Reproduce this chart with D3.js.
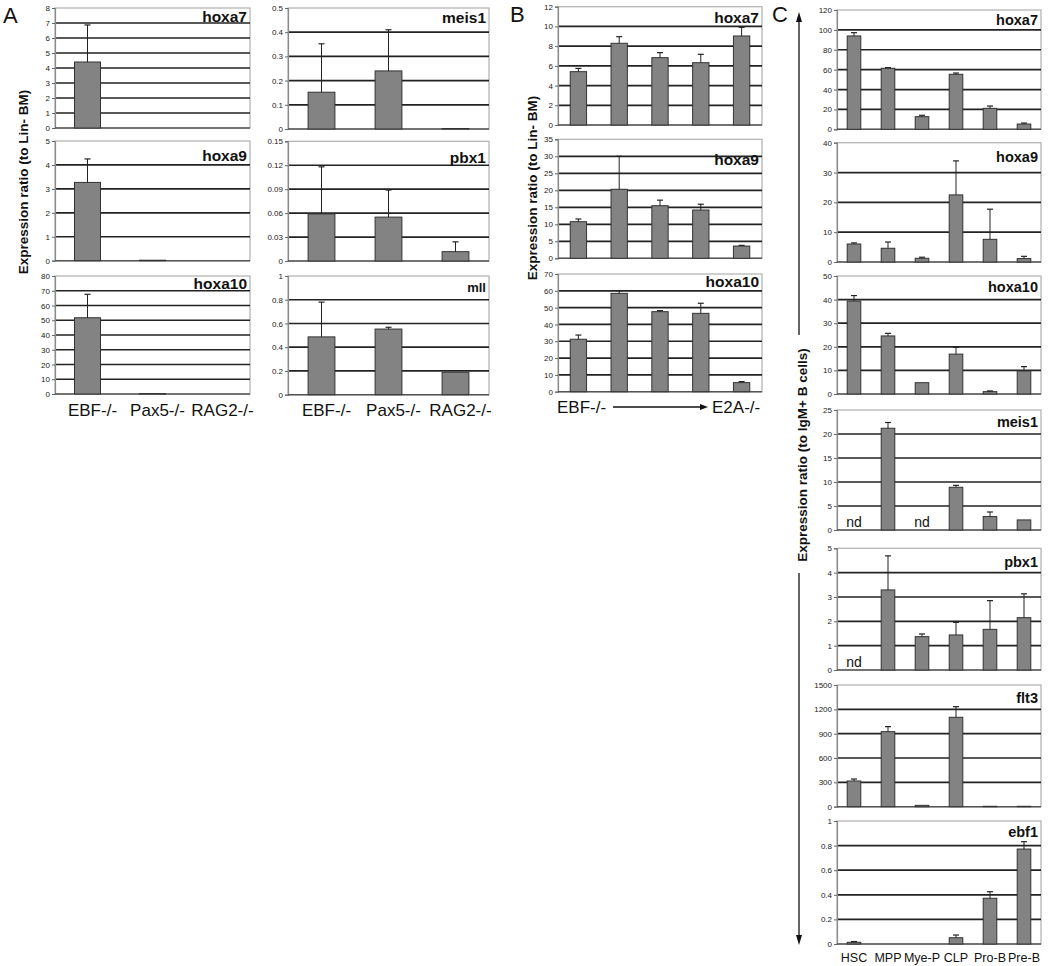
<!DOCTYPE html>
<html><head><meta charset="utf-8">
<script src="https://cdn.jsdelivr.net/npm/d3@7"></script>
<style>
html,body{margin:0;padding:0;background:#fff;}
svg{display:block;font-family:"Liberation Sans",Arial,sans-serif;}
</style></head>
<body>
<svg id="chart" width="1050" height="966"></svg>
<script>
// ---------- categories ----------
const catsA = ["EBF-/-", "Pax5-/-", "RAG2-/-"];
const catsB = ["s1", "s2", "s3", "s4", "s5"];
const catsC = ["HSC", "MPP", "Mye-P", "CLP", "Pro-B", "Pre-B"];

// ---------- Panel A (values, error-bar tops) ----------
const aHoxa7 = [4.4, 0, 0];          const aHoxa7Err = [6.87, null, null];
const aHoxa9 = [3.27, 0.02, 0];      const aHoxa9Err = [4.25, null, null];
const aHoxa10 = [51.7, 0.3, 0];      const aHoxa10Err = [67.6, null, null];
const aMeis1 = [0.152, 0.24, 0.002]; const aMeis1Err = [0.352, 0.41, null];
const aPbx1 = [0.059, 0.055, 0.0117]; const aPbx1Err = [0.118, 0.089, 0.024];
const aMll = [0.487, 0.553, 0.189];  const aMllErr = [0.78, 0.568, null];

// ---------- Panel B ----------
const bHoxa7 = [5.41, 8.29, 6.83, 6.32, 9.03];  const bHoxa7Err = [5.74, 8.96, 7.34, 7.17, 9.91];
const bHoxa9 = [10.77, 20.3, 15.47, 14.2, 3.6]; const bHoxa9Err = [11.56, 30.0, 17.1, 15.9, 3.8];
const bHoxa10 = [31.2, 58.5, 47.6, 46.6, 5.4];  const bHoxa10Err = [33.7, 60.1, 48.2, 52.6, 6.0];

// ---------- Panel C (null = nd) ----------
const cHoxa7 = [93.9, 61.4, 12.7, 55.3, 21.1, 5.3];  const cHoxa7Err = [97.2, 62.0, 14.1, 56.6, 23.4, 6.3];
const cHoxa9 = [6.04, 4.6, 1.24, 22.5, 7.6, 1.15];   const cHoxa9Err = [6.4, 6.7, 1.6, 33.9, 17.7, 1.9];
const cHoxa10 = [39.4, 24.6, 4.8, 16.9, 1.0, 9.75];  const cHoxa10Err = [41.7, 25.7, null, 19.8, 1.3, 11.6];
const cMeis1 = [null, 21.2, null, 8.9, 2.8, 2.1];    const cMeis1Err = [null, 22.4, null, 9.3, 3.75, null];
const cPbx1 = [null, 3.29, 1.37, 1.44, 1.67, 2.15];  const cPbx1Err = [null, 4.69, 1.48, 1.96, 2.85, 3.13];
const cFlt3 = [317, 925, 17, 1102, 5, 5];            const cFlt3Err = [341, 987, null, 1233, null, null];
const cEbf1 = [0.014, 0, 0, 0.051, 0.372, 0.772];    const cEbf1Err = [0.02, null, null, 0.073, 0.425, 0.832];

// ---------- axis ranges [max, step] ----------
const axA = {hoxa7:[8,1], hoxa9:[5,1], hoxa10:[80,10], meis1:[0.5,0.1], pbx1:[0.15,0.03], mll:[1,0.2]};
const axB = {hoxa7:[12,2], hoxa9:[35,5], hoxa10:[70,10]};
const axC = {hoxa7:[120,20], hoxa9:[40,10], hoxa10:[50,10], meis1:[25,5], pbx1:[5,1], flt3:[1500,300], ebf1:[1,0.2]};

const yLabelAB = "Expression ratio (to Lin- BM)";
const yLabelC = "Expression ratio (to IgM+ B cells)";

// ---------- layout ----------
const svg = d3.select("#chart");
const FONT = '"Liberation Sans",Arial,sans-serif';

const panels = [
  {x0:55, x1:250, yT:8, yB:128, cats:catsA, v:aHoxa7, e:aHoxa7Err, ax:axA.hoxa7, gene:"hoxa7", gs:15.5, gdy:13.5},
  {x0:55, x1:250, yT:141, yB:260.7, cats:catsA, v:aHoxa9, e:aHoxa9Err, ax:axA.hoxa9, gene:"hoxa9", gs:15.5, gdy:20},
  {x0:55, x1:250, yT:276, yB:394, cats:catsA, v:aHoxa10, e:aHoxa10Err, ax:axA.hoxa10, gene:"hoxa10", gs:15.5, gdy:12.5},
  {x0:288, x1:489, yT:8, yB:129, cats:catsA, v:aMeis1, e:aMeis1Err, ax:axA.meis1, gene:"meis1", gs:15.5, gdy:14.5},
  {x0:288, x1:489, yT:141.3, yB:261, cats:catsA, v:aPbx1, e:aPbx1Err, ax:axA.pbx1, gene:"pbx1", gs:15.5, gdy:22},
  {x0:288, x1:489, yT:276, yB:394.7, cats:catsA, v:aMll, e:aMllErr, ax:axA.mll, gene:"mll", gs:13, gdy:15.7},
  {x0:558, x1:762, yT:6.7, yB:125, cats:catsB, v:bHoxa7, e:bHoxa7Err, ax:axB.hoxa7, gene:"hoxa7", gs:15.5, gdy:16.6},
  {x0:558, x1:762, yT:139.3, yB:258.3, cats:catsB, v:bHoxa9, e:bHoxa9Err, ax:axB.hoxa9, gene:"hoxa9", gs:15.5, gdy:25.7},
  {x0:558, x1:762, yT:274, yB:391.7, cats:catsB, v:bHoxa10, e:bHoxa10Err, ax:axB.hoxa10, gene:"hoxa10", gs:15.5, gdy:13},
  {x0:837, x1:1041, yT:10, yB:129.3, cats:catsC, v:cHoxa7, e:cHoxa7Err, ax:axC.hoxa7, gene:"hoxa7", gs:14.5, gdy:15},
  {x0:837, x1:1041, yT:142.7, yB:262, cats:catsC, v:cHoxa9, e:cHoxa9Err, ax:axC.hoxa9, gene:"hoxa9", gs:14.5, gdy:19},
  {x0:837, x1:1041, yT:276, yB:394, cats:catsC, v:cHoxa10, e:cHoxa10Err, ax:axC.hoxa10, gene:"hoxa10", gs:14.5, gdy:16},
  {x0:837, x1:1041, yT:410, yB:530, cats:catsC, v:cMeis1, e:cMeis1Err, ax:axC.meis1, gene:"meis1", gs:14.5, gdy:17},
  {x0:837, x1:1041, yT:548.3, yB:670, cats:catsC, v:cPbx1, e:cPbx1Err, ax:axC.pbx1, gene:"pbx1", gs:14.5, gdy:19},
  {x0:837, x1:1041, yT:685, yB:806.7, cats:catsC, v:cFlt3, e:cFlt3Err, ax:axC.flt3, gene:"flt3", gs:14.5, gdy:18},
  {x0:837, x1:1041, yT:821, yB:944, cats:catsC, v:cEbf1, e:cEbf1Err, ax:axC.ebf1, gene:"ebf1", gs:14.5, gdy:16}
];

function drawPanel(p) {
  const g = svg.append("g");
  const [max, step] = p.ax;
  const y = d3.scaleLinear().domain([0, max]).range([p.yB, p.yT]);
  const x = d3.scaleBand().domain(p.cats).range([p.x0, p.x1]).paddingInner(0.6).paddingOuter(0.3);
  const ticks = d3.range(0, max + step / 2, step).map(t => +t.toFixed(4));

  g.append("rect").attr("x", p.x0).attr("y", p.yT).attr("width", p.x1 - p.x0).attr("height", p.yB - p.yT)
    .attr("fill", "#fff").attr("stroke", "#b0b0b0").attr("stroke-width", 1.2);

  g.selectAll("line.grid").data(ticks.filter(t => t > 0 && t < max)).enter().append("line")
    .attr("x1", p.x0).attr("x2", p.x1).attr("y1", d => y(d)).attr("y2", d => y(d))
    .attr("stroke", "#222").attr("stroke-width", 1.7);

  const axis = d3.axisLeft(y).tickValues(ticks).tickSize(3).tickPadding(2)
    .tickFormat(d => String(+d.toFixed(3)));
  const ag = g.append("g").attr("transform", `translate(${p.x0},0)`).call(axis);
  ag.select(".domain").attr("stroke", "#8a8a8a").attr("stroke-width", 1.2);
  ag.selectAll(".tick line").attr("stroke", "#666");
  ag.selectAll(".tick text").attr("font-size", 8).attr("font-family", FONT).attr("fill", "#222");

  g.append("line").attr("x1", p.x0).attr("x2", p.x1).attr("y1", y(0)).attr("y2", y(0))
    .attr("stroke", "#555").attr("stroke-width", 1.4);

  const data = p.cats.map((c, i) => ({c, v: p.v[i], e: p.e[i]}));

  g.selectAll("rect.bar").data(data.filter(d => d.v !== null && d.v > 0)).enter().append("rect")
    .attr("x", d => x(d.c)).attr("width", x.bandwidth())
    .attr("y", d => y(d.v)).attr("height", d => Math.max(0.3, y(0) - y(d.v)))
    .attr("fill", "#838383").attr("stroke", "#333").attr("stroke-width", 1);

  const eb = data.filter(d => d.v !== null && d.e !== null && d.e !== undefined);
  g.selectAll("line.err").data(eb).enter().append("line")
    .attr("x1", d => x(d.c) + x.bandwidth() / 2).attr("x2", d => x(d.c) + x.bandwidth() / 2)
    .attr("y1", d => y(d.v)).attr("y2", d => y(d.e))
    .attr("stroke", "#222").attr("stroke-width", 1);
  g.selectAll("line.cap").data(eb).enter().append("line")
    .attr("x1", d => x(d.c) + x.bandwidth() / 2 - 3).attr("x2", d => x(d.c) + x.bandwidth() / 2 + 3)
    .attr("y1", d => y(d.e)).attr("y2", d => y(d.e))
    .attr("stroke", "#222").attr("stroke-width", 1.2);

  g.selectAll("text.nd").data(data.filter(d => d.v === null)).enter().append("text")
    .attr("x", d => x(d.c) + x.bandwidth() / 2).attr("y", y(0) - 3)
    .attr("text-anchor", "middle").attr("font-size", 14).attr("font-family", FONT).attr("fill", "#111")
    .text("nd");

  g.append("text").attr("x", p.x1 - 3).attr("y", p.yT + p.gdy).attr("text-anchor", "end")
    .attr("font-size", p.gs).attr("font-weight", "bold").attr("font-family", FONT).attr("fill", "#111")
    .text(p.gene);

  return x;
}

const scales = panels.map(drawPanel);

// ---------- x labels ----------
[scales[2], scales[5]].forEach(xs => {
  svg.append("g").selectAll("text").data(catsA).enter().append("text")
    .attr("x", d => xs(d) + xs.bandwidth() / 2 + 5).attr("y", 416)
    .attr("text-anchor", "middle").attr("font-size", 17).attr("font-family", FONT).attr("fill", "#111")
    .text(d => d);
});
const xsC = scales[15];
svg.append("g").selectAll("text").data(catsC).enter().append("text")
  .attr("x", d => xsC(d) + xsC.bandwidth() / 2).attr("y", 962)
  .attr("text-anchor", "middle").attr("font-size", 12.5).attr("font-family", FONT).attr("fill", "#111")
  .text(d => d);
svg.append("text").attr("x", 557).attr("y", 413).attr("font-size", 17).attr("font-family", FONT).attr("fill", "#111").text("EBF-/-");
svg.append("text").attr("x", 712).attr("y", 413).attr("font-size", 17).attr("font-family", FONT).attr("fill", "#111").text("E2A-/-");
svg.append("line").attr("x1", 613).attr("x2", 702).attr("y1", 407).attr("y2", 407).attr("stroke", "#111").attr("stroke-width", 1.3);
svg.append("path").attr("d", "M708,407 L700,404 L700,410 Z").attr("fill", "#111");

// ---------- y labels ----------
function yLabel(x, y, txt) {
  svg.append("text").attr("transform", `translate(${x},${y}) rotate(-90)`)
    .attr("text-anchor", "middle").attr("dy", "0.35em")
    .attr("font-size", 13.5).attr("font-weight", "bold").attr("font-family", FONT).attr("fill", "#111")
    .text(txt);
}
yLabel(23, 182, yLabelAB);
yLabel(532, 188, yLabelAB);
yLabel(802, 455, yLabelC);

svg.append("line").attr("x1", 799).attr("x2", 799).attr("y1", 335).attr("y2", 20).attr("stroke", "#111").attr("stroke-width", 1.3);
svg.append("path").attr("d", "M799,12 L796,22 L802,22 Z").attr("fill", "#111");
svg.append("line").attr("x1", 799).attr("x2", 799).attr("y1", 573).attr("y2", 937).attr("stroke", "#111").attr("stroke-width", 1.3);
svg.append("path").attr("d", "M799,945 L796,935 L802,935 Z").attr("fill", "#111");

[["A", 3, 23], ["B", 510, 22], ["C", 772, 22]].forEach(([t, x, y]) => {
  svg.append("text").attr("x", x).attr("y", y).attr("font-size", 22).attr("font-family", FONT).attr("fill", "#111").text(t);
});
</script>
</body></html>
